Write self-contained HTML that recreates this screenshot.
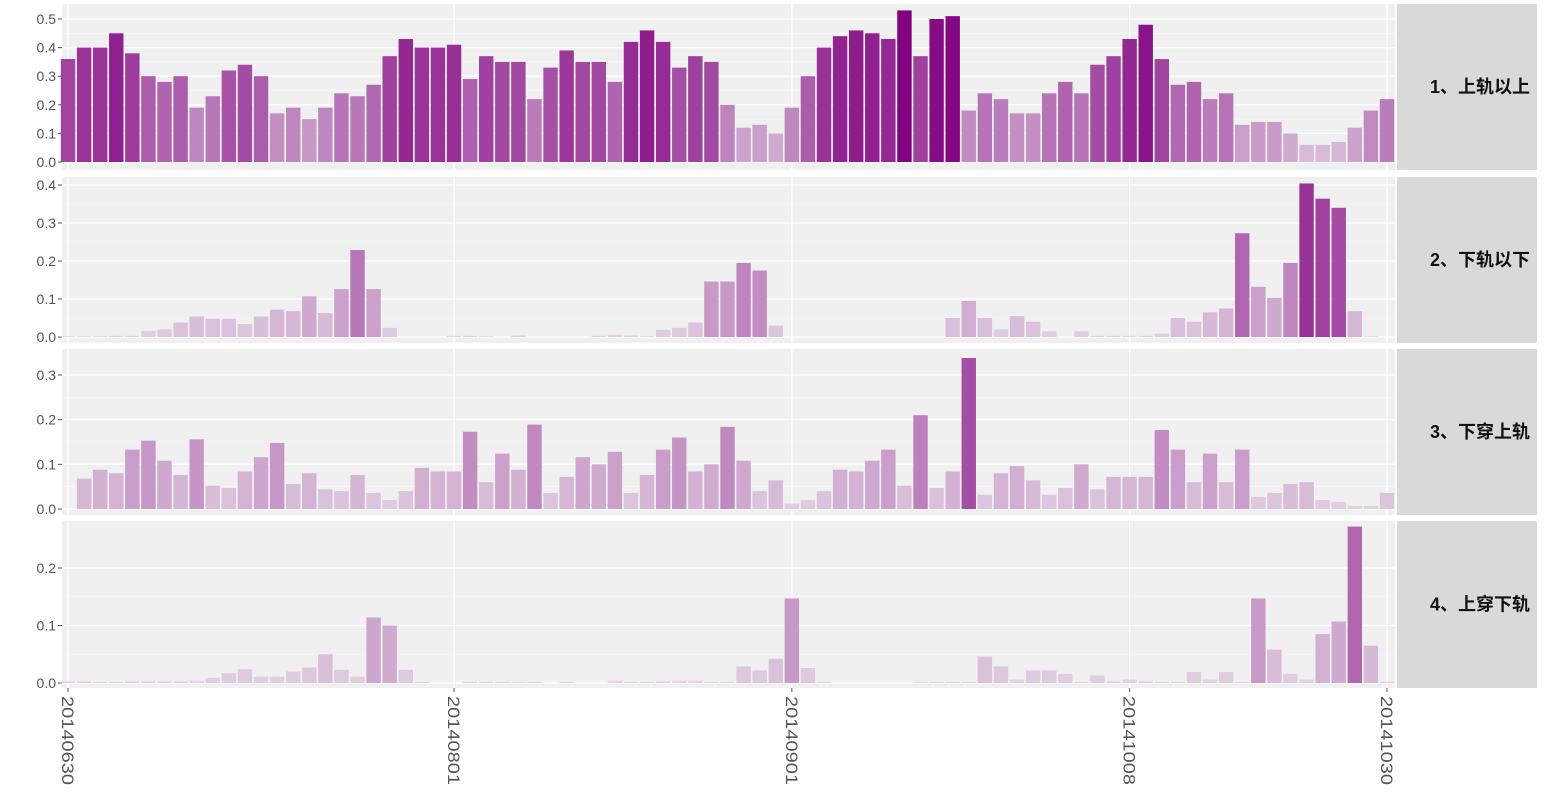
<!DOCTYPE html>
<html><head><meta charset="utf-8">
<style>
body{margin:0;background:#fff;}
svg text{font-family:"Liberation Sans","Noto Sans CJK SC",sans-serif;}
</style></head>
<body>
<svg id="chart" width="1551" height="798" xmlns="http://www.w3.org/2000/svg"></svg>
<script>
const dates = ["20140630","20140801","20140901","20141008","20141030"];
const dateIdx = [0,24,45,66,82];
const panelTitles = ["1、上轨以上","2、下轨以下","3、下穿上轨","4、上穿下轨"];
const s1 = [0.36,0.40,0.40,0.45,0.38,0.30,0.28,0.30,0.19,0.23,0.32,0.34,0.30,0.17,0.19,0.15,0.19,0.24,0.23,0.27,0.37,0.43,0.40,0.40,0.41,0.29,0.37,0.35,0.35,0.22,0.33,0.39,0.35,0.35,0.28,0.42,0.46,0.42,0.33,0.37,0.35,0.20,0.12,0.13,0.10,0.19,0.30,0.40,0.44,0.46,0.45,0.43,0.53,0.37,0.50,0.51,0.18,0.24,0.22,0.17,0.17,0.24,0.28,0.24,0.34,0.37,0.43,0.48,0.36,0.27,0.28,0.22,0.24,0.13,0.14,0.14,0.10,0.06,0.06,0.07,0.12,0.18,0.22];
const s2 = [0.002,0.002,0.002,0.003,0.003,0.016,0.02,0.038,0.054,0.048,0.048,0.034,0.054,0.072,0.068,0.107,0.063,0.126,0.229,0.126,0.024,0,0,0,0.003,0.003,0.002,0,0.004,0,0,0,0,0.003,0.006,0.004,0.002,0.019,0.024,0.038,0.146,0.146,0.195,0.175,0.03,0,0,0,0,0,0,0,0,0,0,0.05,0.095,0.05,0.02,0.055,0.04,0.015,0,0.015,0.003,0.003,0.003,0.003,0.009,0.05,0.04,0.065,0.075,0.273,0.132,0.103,0.195,0.404,0.364,0.34,0.068,0.002,0];
const s3 = [0,0.068,0.088,0.08,0.133,0.153,0.108,0.076,0.156,0.052,0.047,0.084,0.116,0.148,0.056,0.08,0.044,0.04,0.076,0.036,0.02,0.04,0.092,0.084,0.084,0.173,0.06,0.124,0.088,0.189,0.036,0.072,0.116,0.1,0.128,0.036,0.076,0.133,0.16,0.084,0.1,0.184,0.108,0.04,0.064,0.012,0.02,0.04,0.088,0.084,0.108,0.133,0.052,0.21,0.047,0.084,0.338,0.032,0.08,0.096,0.064,0.032,0.047,0.1,0.044,0.072,0.072,0.072,0.177,0.133,0.06,0.124,0.06,0.133,0.027,0.036,0.056,0.06,0.02,0.016,0.007,0.007,0.036];
const s4 = [0.003,0.003,0.002,0.002,0.003,0.003,0.003,0.003,0.004,0.009,0.017,0.024,0.011,0.011,0.02,0.027,0.05,0.023,0.011,0.114,0.10,0.023,0.002,0,0,0.002,0.002,0.002,0.001,0.002,0,0.002,0,0,0.004,0.002,0.002,0.003,0.004,0.004,0.002,0.002,0.029,0.022,0.042,0.147,0.026,0.002,0,0,0,0,0,0.001,0.002,0.002,0.002,0.046,0.029,0.006,0.022,0.022,0.016,0.002,0.013,0.003,0.006,0.003,0.002,0.002,0.019,0.006,0.019,0.002,0.147,0.058,0.016,0.006,0.085,0.107,0.272,0.065,0.002];
const series = [s1,s2,s3,s4];
const yTicks1 = [0,0.1,0.2,0.3,0.4,0.5];
const yTicks2 = [0,0.1,0.2,0.3,0.4];
const yTicks3 = [0,0.1,0.2,0.3];
const yTicks4 = [0,0.1,0.2];
const yTicks = [yTicks1,yTicks2,yTicks3,yTicks4];

const NS="http://www.w3.org/2000/svg";
const svg=document.getElementById('chart');
function mk(tag,attrs,parent){const e=document.createElementNS(NS,tag);for(const k in attrs)e.setAttribute(k,attrs[k]);(parent||svg).appendChild(e);return e;}

const plotL=62, plotR=1395, stripL=1397, stripR=1537;
const panels=[{top:4,bot:170,zeroY:162,scale:286},{top:177,bot:343,zeroY:337,scale:380},{top:349,bot:515,zeroY:509,scale:446.7},{top:521,bot:688,zeroY:683,scale:575}];
const x0=68, step=(1387-68)/82, bw=14.4;
function xScale(i){return x0+i*step;}
const vmax=0.53;
function color(v){const a=Math.min(1,0.12+0.88*v/vmax);const bg=240;
 const r=Math.round(bg*(1-a)+128*a),g=Math.round(bg*(1-a)+0*a);return `rgb(${r},${g},${r})`;}

panels.forEach((p,pi)=>{
  const yS=v=>p.zeroY-v*p.scale;
  const g=mk('g',{});
  
  
  const bg=mk('rect',{x:plotL,y:p.top,width:plotR-plotL,height:p.bot-p.top,fill:'#f0f0f0'},g);
  
  
  yTicks[pi].forEach((t,ti)=>{
    if(ti<yTicks[pi].length-1){const m=yS(t+0.05);
      const mg=mk('line',{x1:plotL,x2:plotR,y1:m,y2:m,stroke:'#fafafa','stroke-width':0.6},g);
      
      }
    const y=yS(t);
    const gl=mk('line',{x1:plotL,x2:plotR,y1:y,y2:y,stroke:'#fff','stroke-width':1.3},g);
    
    
    const tk=mk('line',{x1:plotL-4,x2:plotL,y1:y,y2:y,stroke:'#555','stroke-width':1},g);
    
    
    const tl=mk('text',{x:plotL-6,y:y+5,'text-anchor':'end','font-size':14,fill:'#555'},g);
    tl.textContent=t.toFixed(1);
    
    
  });
  dateIdx.forEach(di=>{const x=xScale(di);
    const vl=mk('line',{x1:x,x2:x,y1:p.top,y2:p.bot,stroke:'#fff','stroke-width':1.3},g);
    
    });
  series[pi].forEach((v,i)=>{
    const y=yS(v);
    const b=mk('rect',{x:xScale(i)-bw/2,y:y,width:bw,height:Math.max(0,p.zeroY-y),fill:color(v)},g);
    
    
  });
  const st=mk('rect',{x:stripL,y:p.top,width:stripR-stripL,height:p.bot-p.top,fill:'#d9d9d9'},g);
  
  
  const stt=mk('text',{x:1530,y:(p.top+p.bot)/2+6,'text-anchor':'end','font-size':18,'font-weight':'bold',fill:'#111'},g);
  stt.textContent=panelTitles[pi];
  
  
});
dates.forEach((d,k)=>{
  const x=xScale(dateIdx[k]);
  const tk=mk('line',{x1:x,x2:x,y1:688,y2:692,stroke:'#555','stroke-width':1});
  
  
  const t=mk('text',{x:0,y:0,'font-size':17,fill:'#555',textLength:89,lengthAdjust:'spacingAndGlyphs',transform:`translate(${x-6},696) rotate(90)`});
  t.textContent=d;
  
  
});
</script>
</body></html>
